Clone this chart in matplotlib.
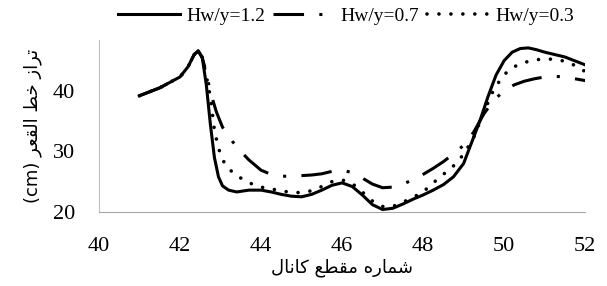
import numpy as np
import matplotlib.pyplot as plt
from matplotlib.lines import Line2D

# data
x_12 = [41, 41.5, 42, 42.2, 42.35, 42.45, 42.55, 42.65, 42.75, 42.85, 42.95, 43.05, 43.2, 43.4,
        43.7, 44, 44.25, 44.5, 44.75, 45, 45.25, 45.5, 45.75, 46, 46.25, 46.5, 46.75, 47, 47.25,
        47.5, 47.75, 48, 48.25, 48.5, 48.75, 49, 49.2, 49.4, 49.6, 49.8, 50, 50.2, 50.4, 50.6,
        50.8, 51, 51.5, 52]
y_12 = [39.2, 40.5, 42.3, 44.0, 46.0, 46.6, 45.5, 41, 34.5, 29, 25.8, 24.3, 23.6, 23.3,
        23.6, 23.6, 23.3, 22.9, 22.6, 22.5, 22.9, 23.6, 24.4, 24.8, 24.2, 22.8, 21.2, 20.4, 20.6,
        21.3, 22.1, 22.8, 23.6, 24.5, 25.8, 28, 31.5, 35, 39, 42.6, 45, 46.4, 47, 47.1,
        46.8, 46.4, 45.6, 44.3]

x_07 = [41, 41.5, 42, 42.2, 42.35, 42.45, 42.55, 42.65, 42.75, 42.9, 43.05, 43.3, 43.5, 43.7,
        44, 44.25, 44.5, 44.75, 45, 45.25, 45.5, 45.75, 46, 46.25, 46.5, 46.75, 47, 47.25, 47.5,
        47.75, 48, 48.25, 48.5, 48.75, 49, 49.25, 49.5, 49.75, 50, 50.25, 50.5, 50.75, 51, 51.25,
        51.5, 51.75, 52]
y_07 = [39.2, 40.5, 42.3, 44.0, 46.0, 46.6, 45.5, 43, 39.8, 36.5, 34, 31.6, 30, 28.6,
        26.9, 26.2, 25.9, 25.9, 26, 26.1, 26.3, 26.7, 26.9, 26.5, 25.6, 24.6, 24, 24.1, 24.6,
        25.3, 26.2, 27.2, 28.3, 29.6, 31, 33.2, 36.2, 38.5, 40, 41, 41.6, 42, 42.3, 42.4,
        42.3, 42, 41.7]

x_03 = [41, 41.5, 42, 42.2, 42.35, 42.45, 42.55, 42.65, 42.75, 42.85, 42.95, 43.1, 43.3, 43.5,
        43.75, 44, 44.25, 44.5, 44.75, 45, 45.25, 45.5, 45.75, 46, 46.25, 46.5, 46.75, 47, 47.25,
        47.5, 47.75, 48, 48.25, 48.5, 48.75, 49, 49.25, 49.5, 49.75, 50, 50.25, 50.5, 50.75, 51,
        51.25, 51.5, 51.75, 52]
y_03 = [39.2, 40.5, 42.3, 44.0, 46.0, 46.6, 45.5, 42.5, 39, 33.5, 30.5, 28, 26.5, 25.6,
        24.7, 24.1, 23.8, 23.5, 23.2, 23.2, 23.5, 24.2, 25, 25.3, 24.7, 23.3, 21.8, 20.9, 20.9,
        21.6, 22.4, 23.3, 24.8, 26.2, 27.6, 29.5, 32.3, 36.5, 40.3, 42.7, 44, 44.7, 45.1, 45.3,
        45.2, 44.9, 44.2, 43.2]

labels = ['Hw/y=1.2', 'Hw/y=0.7', 'Hw/y=0.3']
xticks = [40, 42, 44, 46, 48, 50, 52]
yticks = [20, 30, 40]

# arabic presentation forms: isolated, final, initial, medial
FORMS = {
    '\u0627': ('\uFE8D', '\uFE8E', None, None),
    '\u062A': ('\uFE95', '\uFE96', '\uFE97', '\uFE98'),
    '\u0631': ('\uFEAD', '\uFEAE', None, None),
    '\u0632': ('\uFEAF', '\uFEB0', None, None),
    '\u062E': ('\uFEA5', '\uFEA6', '\uFEA7', '\uFEA8'),
    '\u0637': ('\uFEC1', '\uFEC2', '\uFEC3', '\uFEC4'),
    '\u0644': ('\uFEDD', '\uFEDE', '\uFEDF', '\uFEE0'),
    '\u0642': ('\uFED5', '\uFED6', '\uFED7', '\uFED8'),
    '\u0639': ('\uFEC9', '\uFECA', '\uFECB', '\uFECC'),
    '\u0634': ('\uFEB5', '\uFEB6', '\uFEB7', '\uFEB8'),
    '\u0645': ('\uFEE1', '\uFEE2', '\uFEE3', '\uFEE4'),
    '\u0647': ('\uFEE9', '\uFEEA', '\uFEEB', '\uFEEC'),
    '\u0646': ('\uFEE5', '\uFEE6', '\uFEE7', '\uFEE8'),
    '\u06A9': ('\uFB8E', '\uFB8F', '\uFB90', '\uFB91'),
}

def shape(text):
    out = []
    for i, c in enumerate(text):
        if c not in FORMS:
            out.append(c)
            continue
        prev = text[i-1] if i > 0 else ''
        nxt = text[i+1] if i < len(text)-1 else ''
        pj = prev in FORMS and FORMS[prev][2] is not None
        nj = nxt in FORMS and FORMS[c][2] is not None
        if pj and nj:
            out.append(FORMS[c][3])
        elif pj:
            out.append(FORMS[c][1])
        elif nj:
            out.append(FORMS[c][2])
        else:
            out.append(FORMS[c][0])
    return ''.join(out)[::-1]

xlabel = shape('شماره مقطع کانال')
ylabel = '(cm) ' + shape('تراز خط القعر')

plt.rcParams['font.family'] = ['Liberation Serif', 'DejaVu Sans']

fig = plt.figure(figsize=(6.07, 2.86), dpi=100)
ax = fig.add_axes([0.163, 0.259, 0.801, 0.601])

lw = 2.2
ax.plot(x_12, y_12, color='black', lw=lw, solid_joinstyle='round')
ax.plot(x_07, y_07, color='black', lw=lw, linestyle=(0, (10, 5, 1, 5)))
ax.plot(x_03, y_03, color='black', lw=2.6, linestyle=(0, (0.01, 3.3)),
        dash_capstyle='round')

ax.set_xlim(40, 52)
ax.set_ylim(20, 48.4)
ax.set_xticks(xticks)
ax.set_yticks(yticks)
ax.tick_params(length=0, labelsize=16)
ax.tick_params(axis='x', pad=18)
ax.tick_params(axis='y', pad=17)
for s in ['top', 'right']:
    ax.spines[s].set_visible(False)
ax.spines['left'].set_color('#BFBFBF')
ax.spines['bottom'].set_color('#A6A6A6')

ax.set_xlabel(xlabel, family='DejaVu Sans', fontsize=13, labelpad=2)
ax.set_ylabel(ylabel, family='DejaVu Sans', fontsize=13, labelpad=8)

handles = [Line2D([], [], color='black', lw=lw),
           Line2D([], [], color='black', lw=lw, linestyle=(0, (10, 5, 1, 5))),
           Line2D([], [], color='black', lw=2.6, linestyle=(0, (0.01, 3.3)),
                  dash_capstyle='round')]
fig.legend(handles, labels, ncol=3, loc='center', bbox_to_anchor=(0.57, 0.945),
           frameon=False, fontsize=14, handlelength=3.2, handletextpad=0.3,
           columnspacing=0.4)

plt.savefig('out.png', dpi=100)
